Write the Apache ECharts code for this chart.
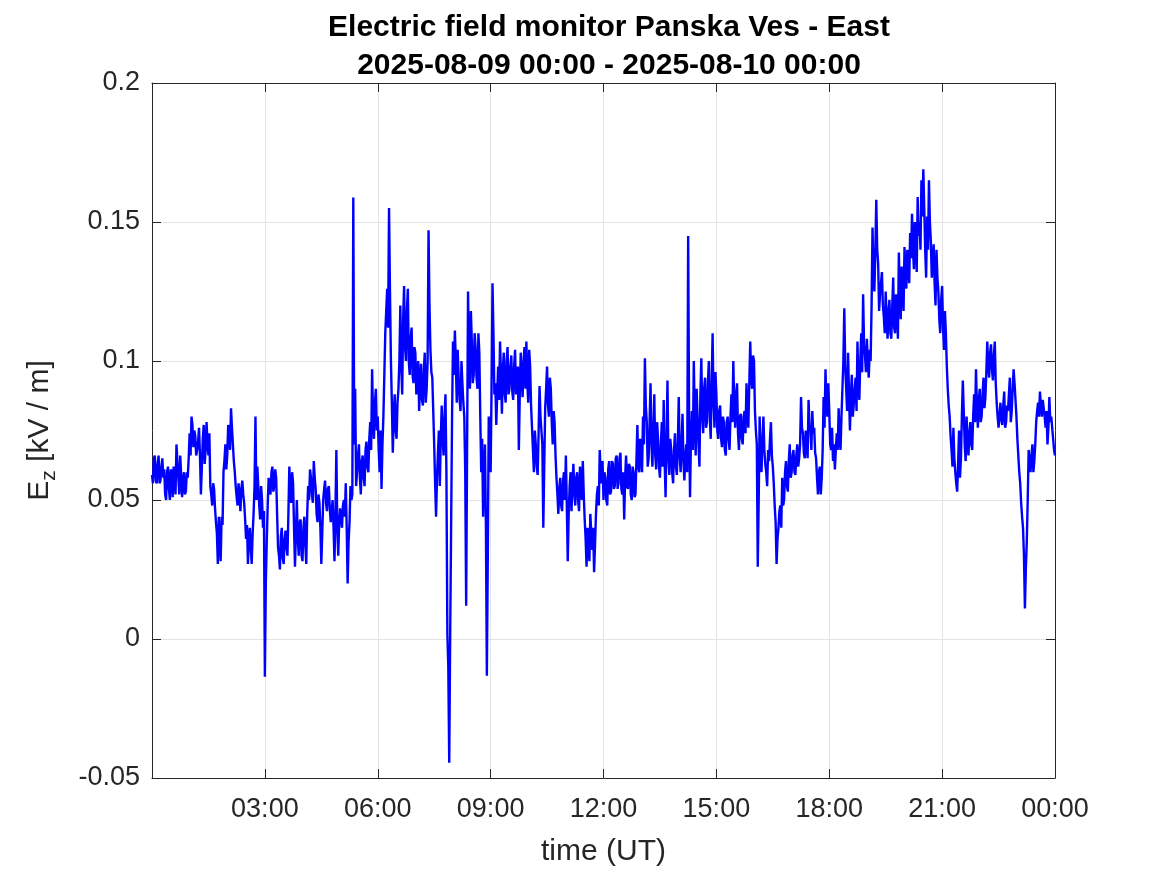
<!DOCTYPE html>
<html>
<head>
<meta charset="utf-8">
<script src="https://cdn.jsdelivr.net/npm/echarts@6/dist/echarts.min.js"></script>
<style>
html,body{margin:0;padding:0;background:#fff;}
#chart{width:1167px;height:875px;}
</style>
</head>
<body>
<div id="chart"></div>
<script>
// ---- data ----
const titleLines = ['Electric field monitor Panska Ves - East', '2025-08-09 00:00 - 2025-08-10 00:00'];
const stepMinutes = 3;               // samples every 3 min from 2025-08-09 00:00 UT, plus readings half-way between
const xTickLabels = ['', '03:00', '06:00', '09:00', '12:00', '15:00', '18:00', '21:00', '00:00'];
const yTicks = [-0.05, 0, 0.05, 0.1, 0.15, 0.2];
// E_z [kV/m] at 00:00, 00:03, 00:06, ... 24:00
const ezOnStep = [
  // 00:00 - 03:00
  0.059,0.065,0.057,0.063,0.056,0.062,0.058,0.052,0.060,0.054,
  0.061,0.051,0.058,0.070,0.058,0.066,0.051,0.060,0.053,0.058,
  0.074,0.080,0.069,0.073,0.068,0.076,0.052,0.072,0.063,0.078,
  0.066,0.055,0.048,0.054,0.042,0.027,0.035,0.044,0.060,0.070,
  0.066,0.072,0.083,0.070,0.060,0.051,0.056,0.046,0.057,0.049,
  0.036,0.027,0.040,0.027,0.045,0.080,0.062,0.048,0.055,0.040,
  // 03:00 - 06:00
  -0.0136,0.035,0.058,0.052,0.062,0.055,0.058,0.033,0.025,0.040,
  0.027,0.039,0.030,0.062,0.049,0.056,0.026,0.050,0.030,0.043,
  0.028,0.044,0.027,0.055,0.061,0.052,0.064,0.054,0.042,0.049,
  0.027,0.050,0.057,0.046,0.055,0.042,0.050,0.028,0.068,0.030,
  0.047,0.040,0.050,0.056,0.020,0.042,0.050,0.1588,0.090,0.060,
  0.070,0.052,0.066,0.055,0.071,0.060,0.078,0.097,0.072,0.090,
  // 06:00 - 09:00
  0.080,0.060,0.054,0.080,0.110,0.126,0.155,0.100,0.067,0.088,
  0.072,0.090,0.120,0.088,0.127,0.100,0.126,0.095,0.112,0.092,
  0.103,0.095,0.082,0.099,0.084,0.103,0.090,0.147,0.104,0.094,
  0.070,0.044,0.067,0.055,0.084,0.066,0.088,0.002,-0.0445,0.040,
  0.107,0.111,0.085,0.094,0.082,0.092,0.080,0.012,0.125,0.090,
  0.107,0.095,0.105,0.090,0.103,0.060,0.044,0.070,-0.0132,0.080,
  // 09:00 - 12:00
  0.060,0.128,0.088,0.077,0.098,0.107,0.081,0.103,0.085,0.105,
  0.090,0.102,0.086,0.104,0.090,0.068,0.103,0.087,0.105,0.107,
  0.085,0.098,0.076,0.060,0.070,0.059,0.091,0.075,0.040,0.083,
  0.098,0.080,0.090,0.070,0.078,0.058,0.045,0.058,0.046,0.060,
  0.066,0.028,0.055,0.046,0.063,0.048,0.060,0.046,0.058,0.064,
  0.043,0.026,0.034,0.045,0.032,0.024,0.045,0.055,0.068,0.056,
  // 12:00 - 15:00
  0.050,0.058,0.048,0.064,0.053,0.063,0.055,0.066,0.056,0.067,
  0.052,0.043,0.066,0.054,0.062,0.050,0.060,0.052,0.077,0.060,
  0.068,0.080,0.101,0.078,0.065,0.092,0.062,0.088,0.061,0.072,
  0.058,0.078,0.086,0.051,0.093,0.059,0.068,0.056,0.074,0.059,
  0.087,0.060,0.081,0.057,0.070,0.145,0.051,0.082,0.100,0.066,
  0.080,0.062,0.101,0.074,0.094,0.078,0.100,0.072,0.110,0.076,
  // 15:00 - 18:00
  0.088,0.072,0.084,0.069,0.078,0.066,0.080,0.068,0.088,0.100,
  0.076,0.092,0.068,0.081,0.070,0.082,0.092,0.076,0.107,0.090,
  0.100,0.075,0.026,0.080,0.060,0.080,0.063,0.055,0.064,0.078,
  0.062,0.048,0.027,0.040,0.048,0.058,0.050,0.064,0.053,0.070,
  0.060,0.068,0.059,0.070,0.065,0.087,0.074,0.065,0.072,0.086,
  0.075,0.082,0.076,0.065,0.052,0.062,0.058,0.087,0.097,0.080,
  // 18:00 - 21:00
  0.082,0.068,0.064,0.061,0.074,0.083,0.068,0.090,0.119,0.090,
  0.103,0.075,0.095,0.084,0.094,0.107,0.086,0.110,0.124,0.102,
  0.108,0.094,0.100,0.148,0.125,0.158,0.135,0.124,0.132,0.116,
  0.125,0.108,0.122,0.108,0.130,0.110,0.120,0.139,0.115,0.127,
  0.141,0.126,0.135,0.146,0.153,0.133,0.142,0.159,0.150,0.165,
  0.169,0.140,0.152,0.165,0.143,0.135,0.128,0.140,0.125,0.110,
  // 21:00 - 24:00
  0.127,0.104,0.110,0.090,0.080,0.068,0.076,0.060,0.053,0.075,
  0.065,0.093,0.070,0.080,0.066,0.078,0.068,0.088,0.097,0.076,
  0.090,0.080,0.094,0.087,0.107,0.094,0.106,0.093,0.107,0.085,
  0.076,0.085,0.077,0.089,0.078,0.082,0.094,0.082,0.097,0.086,
  0.072,0.060,0.049,0.040,0.011,0.035,0.068,0.060,0.070,0.064,
  0.078,0.085,0.089,0.080,0.086,0.076,0.070,0.087,0.080,0.072,
  0.066
];
// E_z [kV/m] at 00:01:30, 00:04:30, ... 23:58:30
const ezHalfStep = [
  // 00:00 - 03:00
  0.056,0.066,0.056,0.066,0.057,0.065,0.061,0.050,0.062,0.050,
  0.060,0.062,0.052,0.064,0.052,0.059,0.057,0.052,0.060,0.065,
  0.066,0.077,0.075,0.066,0.071,0.066,0.062,0.077,0.068,0.070,
  0.074,0.052,0.056,0.047,0.038,0.044,0.028,0.041,0.064,0.061,
  0.077,0.068,0.076,0.064,0.055,0.048,0.052,0.054,0.052,0.043,
  0.041,0.035,0.033,0.038,0.055,0.050,0.055,0.043,0.050,0.046,
  // 03:00 - 06:00
  0.020,0.048,0.053,0.060,0.053,0.061,0.045,0.030,0.037,0.029,
  0.036,0.033,0.045,0.052,0.060,0.040,0.038,0.036,0.042,0.030,
  0.040,0.034,0.045,0.050,0.058,0.049,0.058,0.045,0.052,0.040,
  0.038,0.054,0.049,0.054,0.047,0.046,0.040,0.045,0.040,0.042,
  0.043,0.048,0.044,0.040,0.035,0.055,0.052,0.070,0.055,0.066,
  0.058,0.064,0.058,0.068,0.062,0.072,0.068,0.080,0.085,0.075,
  // 06:00 - 09:00
  0.068,0.075,0.070,0.095,0.118,0.112,0.125,0.085,0.080,0.075,
  0.085,0.100,0.098,0.115,0.105,0.118,0.100,0.108,0.095,0.105,
  0.088,0.100,0.093,0.086,0.097,0.085,0.100,0.120,0.096,0.082,
  0.056,0.058,0.075,0.072,0.072,0.080,0.060,-0.010,0.001,0.080,
  0.095,0.100,0.104,0.086,0.100,0.085,0.060,0.070,0.100,0.118,
  0.092,0.110,0.094,0.110,0.080,0.072,0.060,0.040,0.030,0.068,
  // 09:00 - 12:00
  0.090,0.110,0.092,0.088,0.086,0.095,0.097,0.088,0.100,0.088,
  0.098,0.089,0.098,0.088,0.098,0.088,0.094,0.100,0.090,0.092,
  0.104,0.084,0.068,0.075,0.062,0.074,0.080,0.070,0.062,0.090,
  0.084,0.094,0.078,0.082,0.066,0.052,0.054,0.048,0.057,0.050,
  0.048,0.045,0.060,0.056,0.052,0.058,0.050,0.062,0.050,0.052,
  0.036,0.040,0.028,0.038,0.040,0.034,0.052,0.048,0.060,0.064,
  // 12:00 - 15:00
  0.060,0.050,0.061,0.052,0.064,0.054,0.065,0.054,0.065,0.054,
  0.060,0.058,0.055,0.063,0.052,0.062,0.051,0.064,0.062,0.072,
  0.060,0.070,0.084,0.062,0.078,0.070,0.075,0.066,0.078,0.062,
  0.070,0.062,0.064,0.070,0.066,0.072,0.060,0.068,0.062,0.070,
  0.066,0.070,0.064,0.066,0.060,0.080,0.072,0.068,0.080,0.090,
  0.070,0.088,0.080,0.090,0.076,0.092,0.080,0.092,0.085,0.096,
  // 15:00 - 18:00
  0.075,0.082,0.072,0.080,0.068,0.078,0.072,0.080,0.078,0.084,
  0.088,0.074,0.080,0.072,0.080,0.074,0.082,0.092,0.094,0.102,
  0.082,0.070,0.050,0.065,0.072,0.068,0.060,0.068,0.072,0.066,
  0.056,0.042,0.036,0.046,0.040,0.048,0.060,0.055,0.064,0.058,
  0.066,0.060,0.066,0.062,0.070,0.076,0.067,0.075,0.065,0.077,
  0.068,0.074,0.067,0.058,0.060,0.052,0.068,0.076,0.085,0.092,
  // 18:00 - 21:00
  0.070,0.076,0.070,0.068,0.068,0.072,0.080,0.100,0.098,0.082,
  0.088,0.088,0.080,0.090,0.082,0.092,0.100,0.096,0.106,0.096,
  0.100,0.104,0.120,0.130,0.140,0.140,0.118,0.128,0.120,0.110,
  0.115,0.118,0.110,0.120,0.112,0.124,0.108,0.124,0.134,0.118,
  0.130,0.140,0.128,0.137,0.140,0.150,0.132,0.145,0.140,0.152,
  0.155,0.130,0.140,0.150,0.130,0.142,0.120,0.130,0.115,0.122,
  // 21:00 - 24:00
  0.112,0.118,0.098,0.084,0.073,0.062,0.065,0.056,0.063,0.058,
  0.080,0.082,0.064,0.072,0.074,0.070,0.080,0.078,0.084,0.086,
  0.078,0.088,0.083,0.096,0.098,0.103,0.097,0.102,0.092,0.080,
  0.080,0.079,0.084,0.076,0.084,0.088,0.078,0.090,0.092,0.080,
  0.066,0.056,0.044,0.030,0.025,0.050,0.064,0.066,0.060,0.070,
  0.082,0.080,0.084,0.086,0.080,0.082,0.076,0.078,0.076,0.068
];

// ---- chart ----
const seriesData = [];
ezOnStep.forEach((v, i) => {
  seriesData.push([i * stepMinutes / 60, v]);
  if (i < ezHalfStep.length) seriesData.push([(i + 0.5) * stepMinutes / 60, ezHalfStep[i]]);
});
const FONT = "'Liberation Sans', Arial, Helvetica, sans-serif";
const AX = '#262626';
const GRIDC = '#e3e3e3';

const chart = echarts.init(document.getElementById('chart'), null, {renderer: 'canvas'});
const xMain = {
  type: 'value', min: 0, max: 24, interval: 3, position: 'bottom',
  axisLine: {show: true, onZero: false, lineStyle: {color: AX, width: 1}},
  axisTick: {show: true, inside: true, length: 9, lineStyle: {color: AX, width: 1}},
  axisLabel: {show: true, fontSize: 27, color: AX, fontFamily: FONT, margin: 18,
    formatter: v => xTickLabels[Math.round(v / 3)] || ''},
  splitLine: {show: true, lineStyle: {color: GRIDC, width: 1}},
  name: 'time (UT)', nameLocation: 'middle', nameGap: 59,
  nameTextStyle: {fontSize: 30, color: AX, fontFamily: FONT}
};
const xTop = {
  type: 'value', min: 0, max: 24, interval: 3, position: 'top',
  axisLine: {show: true, onZero: false, lineStyle: {color: AX, width: 1}},
  axisTick: {show: true, inside: true, length: 9, lineStyle: {color: AX, width: 1}},
  axisLabel: {show: false}, splitLine: {show: false}
};
const yMain = {
  type: 'value', min: yTicks[0], max: yTicks[yTicks.length - 1], interval: 0.05, position: 'left',
  axisLine: {show: true, onZero: false, lineStyle: {color: AX, width: 1}},
  axisTick: {show: true, inside: true, length: 9, lineStyle: {color: AX, width: 1}},
  axisLabel: {show: true, fontSize: 27, color: AX, fontFamily: FONT, margin: 12},
  splitLine: {show: true, lineStyle: {color: GRIDC, width: 1}},
  name: '{e|E}{z|z}{e| [kV / m]}', nameLocation: 'middle', nameRotate: 90, nameGap: 92,
  nameTextStyle: {
    color: AX, fontFamily: FONT,
    rich: {
      e: {fontSize: 30, color: AX, fontFamily: FONT, lineHeight: 40, verticalAlign: 'middle'},
      z: {fontSize: 21, color: AX, fontFamily: FONT, lineHeight: 40, verticalAlign: 'bottom', padding: [16, 0, 0, 0]}
    }
  }
};
const yRight = {
  type: 'value', min: yTicks[0], max: yTicks[yTicks.length - 1], interval: 0.05, position: 'right',
  axisLine: {show: true, onZero: false, lineStyle: {color: AX, width: 1}},
  axisTick: {show: true, inside: true, length: 9, lineStyle: {color: AX, width: 1}},
  axisLabel: {show: false}, splitLine: {show: false}
};

chart.setOption({
  animation: false,
  backgroundColor: '#ffffff',
  title: {
    text: titleLines.join('\n'),
    left: 604, top: 4, textAlign: 'center',
    textStyle: {fontSize: 30, fontWeight: 'bold', color: '#000', fontFamily: FONT, lineHeight: 38}
  },
  grid: {left: 152, right: 112, top: 83, bottom: 97, containLabel: false},
  xAxis: [xMain, xTop],
  yAxis: [yMain, yRight],
  series: [{
    type: 'line', xAxisIndex: 0, yAxisIndex: 0,
    data: seriesData, showSymbol: false, symbol: 'none',
    lineStyle: {color: '#0000ff', width: 2.4},
    sampling: null, z: 3
  }]
});
</script>
</body>
</html>
